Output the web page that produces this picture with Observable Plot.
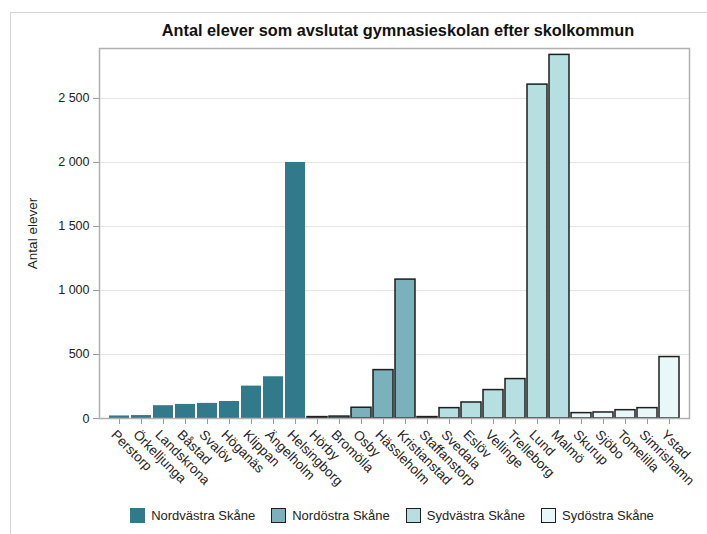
<!DOCTYPE html>
<html>
<head>
<meta charset="utf-8">
<script src="https://cdn.jsdelivr.net/npm/d3@7"></script>
<script src="https://cdn.jsdelivr.net/npm/@observablehq/plot@0.6"></script>
<style>
  body { margin: 0; background: #fff; font-family: "Liberation Sans", Arial, sans-serif; }
  #wrap { position: relative; width: 707px; height: 534px; overflow: hidden; }
  #border { position: absolute; left: 10px; top: 12px; width: 800px; height: 700px;
            border-left: 1px solid #d4d4d4; border-top: 1px solid #d4d4d4; }
  #title { position: absolute; left: 103px; width: 590px; top: 21px; text-align: center;
           font-weight: bold; font-size: 16.3px; color: #111; }
  #chart { position: absolute; left: 0; top: 0; }
  #legend { position: absolute; left: 97px; width: 590px; top: 508px; display: flex;
            justify-content: center; align-items: center; font-size: 13px; color: #222; }
  .item { display: flex; align-items: center; margin: 0 8px; }
  .sw { width: 15px; height: 15px; box-sizing: border-box; margin-right: 6px; }
</style>
</head>
<body>
<div id="wrap">
  <div id="border"></div>
  <div id="title">Antal elever som avslutat gymnasieskolan efter skolkommun</div>
  <div id="chart"></div>
  <div id="legend"></div>
</div>
<script>
const regions = ["Nordvästra Skåne", "Nordöstra Skåne", "Sydvästra Skåne", "Sydöstra Skåne"];
const regionColors = ["#307a8b", "#7ab1bb", "#b5dfe0", "#e8f8f8"];

const nordvastraNames = ["Perstorp", "Örkelljunga", "Landskrona", "Båstad", "Svalöv", "Höganäs", "Klippan", "Ängelholm", "Helsingborg"];
const nordvastraValues = [20, 23, 100, 110, 118, 133, 253, 326, 2000];

const nordostraNames = ["Hörby", "Bromölla", "Osby", "Hässleholm", "Kristianstad"];
const nordostraValues = [11, 15, 84, 378, 1085];

const sydvastraNames = ["Staffanstorp", "Svedala", "Eslöv", "Vellinge", "Trelleborg", "Lund", "Malmö"];
const sydvastraValues = [11, 81, 125, 222, 308, 2608, 2840];

const sydostraNames = ["Skurup", "Sjöbo", "Tomelilla", "Simrishamn", "Ystad"];
const sydostraValues = [42, 47, 65, 81, 480];

const yTicks = [0, 500, 1000, 1500, 2000, 2500];
const yLabel = "Antal elever";

const groups = [
  [nordvastraNames, nordvastraValues],
  [nordostraNames, nordostraValues],
  [sydvastraNames, sydvastraValues],
  [sydostraNames, sydostraValues]
];
const data = [];
groups.forEach(([names, values], gi) => {
  names.forEach((n, i) => data.push({kommun: n, value: values[i], region: regions[gi]}));
});
const categories = data.map(d => d.kommun);

const fmt = d => d3.format(",")(d).replace(/,/g, " ");

const chart = Plot.plot({
  width: 707,
  height: 500,
  marginTop: 48,
  marginLeft: 99,
  marginRight: 18,
  marginBottom: 82,
  style: {fontFamily: "'Liberation Sans', Arial, sans-serif", color: "#222", background: "transparent"},
  x: {type: "band", domain: categories, paddingInner: 0.1, paddingOuter: 0.34},
  y: {domain: [0, 2890]},
  color: {domain: regions, range: regionColors},
  marks: [
    Plot.ruleY(yTicks.filter(d => d > 0), {stroke: "#e4e4e4", strokeWidth: 1}),
    Plot.barY(data.filter(d => d.region === regions[0]), {x: "kommun", y: "value", fill: "region"}),
    Plot.barY(data.filter(d => d.region !== regions[0]), {x: "kommun", y: "value", fill: "region", stroke: "#1e1e1e", strokeWidth: 1.5}),
    Plot.axisY({ticks: yTicks, tickFormat: fmt, tickSize: 6, tickPadding: 4, stroke: "#9a9a9a", fontSize: 12.5, label: null}),
    Plot.text([yLabel], {frameAnchor: "left", textAnchor: "middle", dx: -67, rotate: -90, fontSize: 13.5, fill: "#222"}),
    Plot.axisX({tickSize: 6, tickFormat: () => "", stroke: "#9a9a9a", label: null}),
    Plot.axisX({tickSize: 0, tickRotate: 45, tickPadding: 8, dx: -6, dy: 6, fontSize: 13.5, label: null}),
    Plot.frame({stroke: "#b0b0b0", strokeWidth: 1.5})
  ]
});
document.getElementById("chart").appendChild(chart);

const legend = document.getElementById("legend");
regions.forEach((r, i) => {
  const item = document.createElement("div");
  item.className = "item";
  const sw = document.createElement("div");
  sw.className = "sw";
  sw.style.background = regionColors[i];
  if (i > 0) sw.style.border = "1.5px solid #1e1e1e";
  const t = document.createElement("span");
  t.textContent = r;
  item.appendChild(sw);
  item.appendChild(t);
  legend.appendChild(item);
});
</script>
</body>
</html>
